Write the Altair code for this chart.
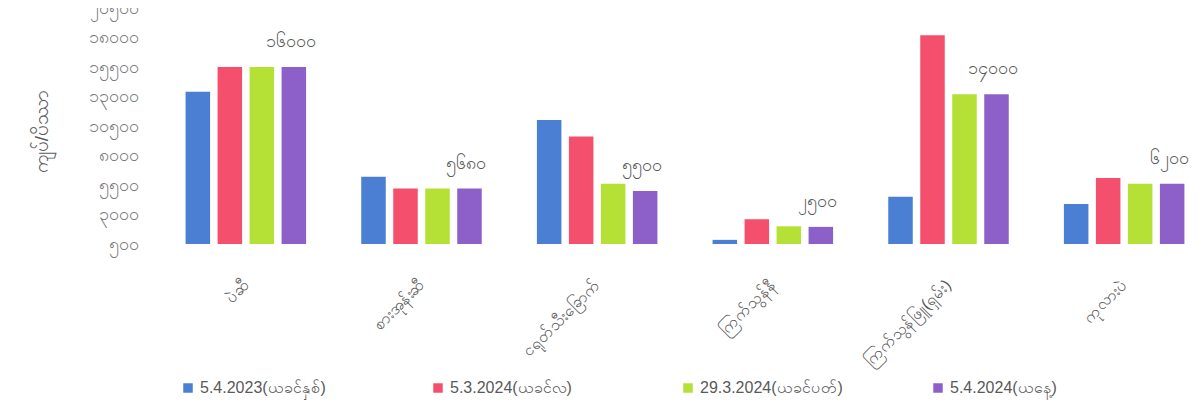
import altair as alt
import pandas as pd

groups = ["ပဲဆီ", "စားအုန်းဆီ", "ငရုတ်သီးခြောက်", "ကြက်သွန်နီ", "ကြက်သွန်ဖြူ(ရှမ်း)", "ကုလားပဲ"]
series = ["5.4.2023(ယခင်နှစ်)", "5.3.2024(ယခင်လ)", "29.3.2024(ယခင်ပတ်)", "5.4.2024(ယနေ့)"]
colors = ["#4a7fd4", "#f4506e", "#b5e035", "#8d60c9"]

blue = [13400, 6200, 11000, 850, 4500, 3900]
red = [15500, 5200, 9600, 2600, 18200, 6100]
green = [15500, 5200, 5600, 2000, 13200, 5600]
purple = [15500, 5200, 5000, 1950, 13200, 5600]
purple_labels = ["၁၆၀၀၀", "၅၆၈၀", "၅၅၀၀", "၂၅၀၀", "၁၄၀၀၀", "၆၂၀၀"]

tick_values = [500, 3000, 5500, 8000, 10500, 13000, 15500, 18000, 20500]
y_title = "ကျပ်/ပိဿာ"

rows = []
for s, vals in zip(series, [blue, red, green, purple]):
    for g, v in zip(groups, vals):
        rows.append({"group": g, "series": s, "value": v})
df = pd.DataFrame(rows)

lab = pd.DataFrame({"group": groups, "series": [series[3]] * len(groups),
                    "value": purple, "label": purple_labels})

# convert ascii digits to Myanmar digits for axis labels
mm = "၀၁၂၃၄၅၆၇၈၉"
expr = "datum.label"
for i, d in enumerate(mm):
    expr = f"replace({expr}, regexp('{i}', 'g'), '{d}')"

grey = "#595959"

x = alt.X("group:N", sort=groups, title=None,
          scale=alt.Scale(paddingInner=0.314, paddingOuter=0.157),
          axis=alt.Axis(labelAngle=-45, labelAlign="right", labelBaseline="middle",
                        labelFontSize=16, labelColor=grey, labelPadding=38,
                        ticks=False, domain=False, labelLimit=300))
xoff = alt.XOffset("series:N", sort=series,
                   scale=alt.Scale(domain=series, paddingInner=0.234, paddingOuter=0))
y = alt.Y("value:Q", title=y_title,
          scale=alt.Scale(domain=[500, 20500], zero=False, nice=False),
          axis=alt.Axis(values=tick_values, format="d", labelExpr=expr,
                        labelOverlap=False, labelBound=False,
                        labelFontSize=18, labelColor="#7a7a7a", labelPadding=20,
                        ticks=False, domain=False, grid=False,
                        titleFontSize=19, titleColor=grey, titleFontWeight="normal",
                        titleX=-117, titleY=123, titleAngle=-90,
                        titleAlign="center", titleBaseline="middle"))

bars = alt.Chart(df).mark_bar().encode(
    x=x, xOffset=xoff, y=y, y2=alt.datum(500),
    color=alt.Color("series:N", sort=series,
                    scale=alt.Scale(domain=series, range=colors),
                    legend=alt.Legend(title=None, orient="none", direction="horizontal",
                                      legendX=22, legendY=372, symbolType="square",
                                      symbolSize=90, labelFontSize=16, labelColor=grey,
                                      columnPadding=87, gridAlign="all", symbolOffset=0,
                                      labelLimit=300)),
)

texts = alt.Chart(lab).mark_text(dy=-25, dx=-3, fontSize=18, color=grey).encode(
    x=x, xOffset=xoff, y=y, text="label:N")

chart = alt.layer(bars, texts).properties(
    width=1054, height=236,
    background="white",
    autosize=alt.AutoSizeParams(type="none"),
    padding={"left": 150, "top": 0, "right": -17, "bottom": 160},
).configure_view(stroke=None).configure_axis(labelOverlap=False)

chart.save("out.html", embed_options={"renderer": "svg", "actions": False})
